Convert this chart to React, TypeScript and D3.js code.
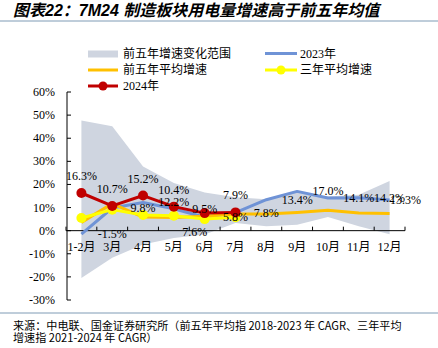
import React from "react";
import * as d3 from "d3";

const categories = ["1-2月", "3月", "4月", "5月", "6月", "7月", "8月", "9月", "10月", "11月", "12月"];
const bandUpper = [47.7, 45.2, 27.8, 20.6, 16.5, 14.5, 13.6, 17.2, 14.8, 15.5, 21.5];
const bandLower = [-20.5, -11.7, -6.0, -3.2, -1.7, 3.3, 1.9, 2.6, 5.9, 1.9, -1.5];
const avg5 = [3.6, 11.7, 5.9, 5.7, 6.2, 7.2, 7.2, 7.9, 8.8, 7.6, 7.4];
const y2023 = [-1.5, 9.8, 12.2, 9.5, 5.8, 7.8, 13.4, 17.0, 14.1, 14.2, 13.3];
const avg3 = [5.5, 9.1, 6.8, 6.5, 5.0, 5.8];
const y2024 = [16.3, 10.7, 15.2, 10.4, 7.6, 7.9];
const yTicks = [60, 50, 40, 30, 20, 10, 0, -10, -20, -30];

const W = 438;
const H = 348;
const serif = "'Liberation Serif', 'Times New Roman', 'Noto Sans CJK SC', serif";
const cjk = "'Liberation Serif', 'Noto Sans CJK SC', serif";

export default function App() {
  const x = d3.scalePoint<string>().domain(categories).range([66, 405]).padding(0.5);
  const step = x.step();
  const y = d3.scaleLinear().domain([-30, 60]).range([300, 92]);
  const xi = (i: number) => x(categories[i]) as number;

  const area = d3
    .area<number>()
    .x((_, i) => xi(i))
    .y0((_, i) => y(bandLower[i]))
    .y1((d) => y(d));
  const line = d3
    .line<number>()
    .x((_, i) => xi(i))
    .y((d) => y(d));

  const boundaries = d3.range(categories.length + 1).map((k) => 66 + k * step);

  return (
    <svg width={W} height={H} style={{ position: "absolute", left: 0, top: 0, background: "#fff" }}>
      <rect x={0} y={0} width={W} height={H} fill="#fff" />
      <text
        x={13}
        y={16}
        fontFamily="'Liberation Sans', 'Noto Sans CJK SC', sans-serif"
        fontWeight="bold"
        fontStyle="italic"
        fontSize={16}
        fill="#000"
      >
        图表22：7M24 制造板块用电量增速高于前五年均值
      </text>
      <line x1={0} x2={438} y1={21} y2={21} stroke="#7f9bb5" strokeWidth={1} />

      {/* legend */}
      <g fontFamily={cjk} fontSize={12} fill="#000">
        <rect x={88} y={50.5} width={30} height={7} fill="#cfd5e0" />
        <text x={123} y={58}>前五年增速变化范围</text>
        <line x1={88} x2={118} y1={70} y2={70} stroke="#ffc000" strokeWidth={3} />
        <text x={123} y={74}>前五年平均增速</text>
        <line x1={88} x2={118} y1={86} y2={86} stroke="#c00000" strokeWidth={3} />
        <circle cx={103} cy={86} r={4.5} fill="#c00000" />
        <text x={123} y={90}>2024年</text>
        <line x1={265} x2={297} y1={53.5} y2={53.5} stroke="#6f93d6" strokeWidth={3} />
        <text x={300} y={58}>2023年</text>
        <line x1={265} x2={297} y1={70} y2={70} stroke="#ffff00" strokeWidth={3} />
        <circle cx={281} cy={70} r={4.5} fill="#ffff00" />
        <text x={300} y={74}>三年平均增速</text>
      </g>

      {/* band */}
      <path d={area(bandUpper) || ""} fill="#cfd5e0" />

      {/* axes */}
      <line x1={67} x2={67} y1={92} y2={300} stroke="#000" strokeWidth={1} />
      {yTicks.map((t) => (
        <g key={t}>
          <line x1={67} x2={71} y1={y(t)} y2={y(t)} stroke="#000" />
          <text x={55} y={y(t) + 4} textAnchor="end" fontFamily={serif} fontSize={12} fill="#000">
            {t}%
          </text>
        </g>
      ))}
      <line x1={66} x2={405} y1={y(0)} y2={y(0)} stroke="#000" strokeWidth={1} />
      {boundaries.map((b, k) => (
        <line key={k} x1={b} x2={b} y1={y(0)} y2={y(0) - 4} stroke="#000" />
      ))}
      {categories.map((c) => (
        <text key={c} x={x(c) as number} y={251} textAnchor="middle" fontFamily={cjk} fontSize={12} fill="#000">
          {c}
        </text>
      ))}

      {/* lines */}
      <path d={line(y2023) || ""} fill="none" stroke="#6f93d6" strokeWidth={3} strokeLinejoin="round" />
      <path d={line(avg5) || ""} fill="none" stroke="#ffc000" strokeWidth={3} strokeLinejoin="round" />
      <path d={line(avg3) || ""} fill="none" stroke="#ffff00" strokeWidth={3} strokeLinejoin="round" />
      {avg3.map((v, i) => (
        <circle key={i} cx={xi(i)} cy={y(v)} r={5} fill="#ffff00" />
      ))}
      <path d={line(y2024) || ""} fill="none" stroke="#c00000" strokeWidth={3} strokeLinejoin="round" />
      {y2024.map((v, i) => (
        <circle key={i} cx={xi(i)} cy={y(v)} r={5} fill="#c00000" />
      ))}

      {/* labels */}
      <g fontFamily={serif} fontSize={12} fill="#000" textAnchor="middle">
        {y2024.map((v, i) => (
          <text key={i} x={i === 4 ? xi(i) - 10 : xi(i)} y={i === 4 ? y(v) + 23 : y(v) - 13}>
            {v.toFixed(1)}%
          </text>
        ))}
        {y2023.map((v, i) => (
          <text key={i} x={i === y2023.length - 1 ? xi(i) + 16 : xi(i) + step} y={y(v) + 4}>
            {v.toFixed(1)}%
          </text>
        ))}
      </g>

      <line x1={0} x2={438} y1={313} y2={313} stroke="#7f9bb5" strokeWidth={1} />
      <g fontFamily="'Noto Sans CJK SC', sans-serif" fontSize={11.1} fill="#000">
        <text x={13} y={330}>来源：中电联、国金证券研究所（前五年平均指 2018-2023 年 CAGR、三年平均</text>
        <text x={13} y={342}>增速指 2021-2024 年 CAGR）</text>
      </g>
    </svg>
  );
}
